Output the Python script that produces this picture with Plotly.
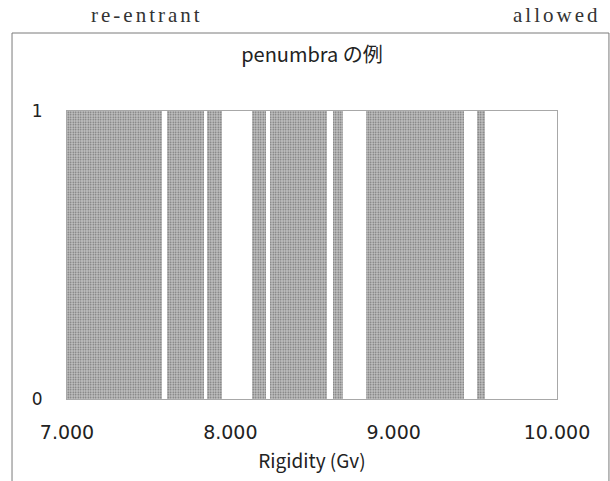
import plotly.graph_objects as go

# Rigidity bands (GV) that are "allowed" (value 1) in the penumbra
band_start = [7.00, 7.61, 7.86, 8.13, 8.24, 8.63, 8.83, 9.51]
band_end   = [7.58, 7.84, 7.95, 8.22, 8.59, 8.69, 9.43, 9.56]
band_value = [1, 1, 1, 1, 1, 1, 1, 1]

x_ticks = [7, 8, 9, 10]
y_ticks = [0, 1]

centers = [(s + e) / 2 for s, e in zip(band_start, band_end)]
widths = [e - s for s, e in zip(band_start, band_end)]

FONT = "Noto Sans CJK JP, Noto Sans, sans-serif"
NUMFONT = "DejaVu Sans, sans-serif"

fig = go.Figure()
fig.add_trace(go.Bar(
    x=centers, y=band_value, width=widths,
    marker=dict(
        color="#a8a8a8",
        line=dict(width=0),
        pattern=dict(shape=".", fgcolor="#6e6e6e", bgcolor="#c2c2c2",
                     size=2.5, solidity=0.3, fillmode="replace"),
    ),
    hoverinfo="skip",
))

fig.update_layout(
    width=610, height=481,
    margin=dict(l=67, r=53, t=111, b=82),
    paper_bgcolor="white", plot_bgcolor="white",
    showlegend=False,
    bargap=0,
    font=dict(family=FONT, size=16, color="#222"),
    title=dict(text="penumbra の例", x=0.5, xref="paper", xanchor="center",
               y=1.0, yref="container", yanchor="top", pad=dict(t=48),
               font=dict(family=FONT, size=20, color="#222")),
    xaxis=dict(range=[7, 10], tickvals=x_ticks, tickformat=".3f",
               showgrid=False, zeroline=False, showline=True, mirror=True,
               linecolor="#a8a8a8", linewidth=1, ticks="", ticklabelstandoff=16,
               tickfont=dict(family=NUMFONT, size=19, color="#222"),
               title=dict(text="Rigidity (Gv)", standoff=12,
                          font=dict(family=FONT, size=19, color="#222"))),
    yaxis=dict(range=[0, 1], tickvals=y_ticks, showgrid=False, zeroline=False,
               showline=True, mirror=True, linecolor="#a8a8a8", linewidth=1,
               ticks="", ticklabelstandoff=20,
               tickfont=dict(family=NUMFONT, size=17, color="#222")),
)

# outer chart border (Excel-style chart area)
fig.add_shape(type="rect", xref="paper", yref="paper",
              x0=-0.1122, x1=1.106, y0=-0.31, y1=1.2708,
              line=dict(color="#7a7a7a", width=1), fillcolor="rgba(0,0,0,0)",
              layer="below")

SERIF = "Liberation Serif, DejaVu Serif, serif"
fig.add_annotation(text='<span style="letter-spacing:3px">re-entrant</span>',
                   xref="paper", yref="paper", x=(147 - 67) / 490, y=(399 - 15) / 288,
                   showarrow=False, xanchor="center", yanchor="middle",
                   font=dict(family=SERIF, size=21, color="#333"))
fig.add_annotation(text='<span style="letter-spacing:3px">allowed</span>',
                   xref="paper", yref="paper", x=(556 - 67) / 490, y=(399 - 15) / 288,
                   showarrow=False, xanchor="center", yanchor="middle",
                   font=dict(family=SERIF, size=21, color="#333"))

fig.write_html("out.html")
